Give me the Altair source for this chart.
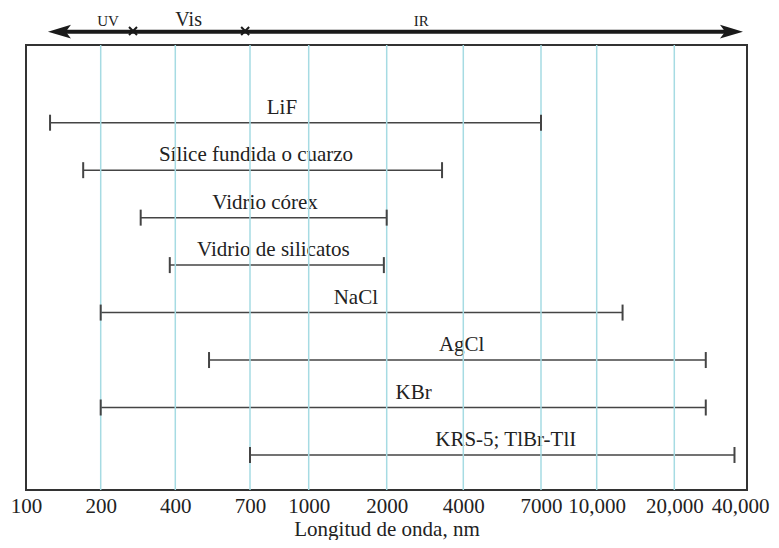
import altair as alt
import pandas as pd

# ---- data ----
materials = ["LiF", "Sílice fundida o cuarzo", "Vidrio córex", "Vidrio de silicatos",
             "NaCl", "AgCl", "KBr", "KRS-5; TlBr-TlI"]
rows = [1, 2, 3, 4, 5, 6, 7, 8]
low_nm = [125, 170, 290, 380, 200, 515, 200, 700]
high_nm = [7000, 3300, 2000, 1950, 12600, 27000, 27000, 35500]
label_nm = [850, 726, 767, 807, 1520, 3940, 2550, 5430]

tick_values = [100, 200, 400, 700, 1000, 2000, 4000, 7000, 10000, 20000, 40000]
grid_values = [200, 400, 700, 1000, 2000, 4000, 7000, 10000, 20000]
# uneven (hand-drawn) axis: pixel position of each tick inside the plot
tick_pixels = [0, 74.7, 149.3, 224, 282.7, 360.7, 437.3, 515, 570.7, 648.3, 721]

region_names = ["UV", "Vis", "IR"]
region_nm = [214, 442, 2736]
region_sizes = [15, 20, 15]
boundary_nm = [270, 675]
arrow_tips_nm = [122.6, 38500]
arrow_shaft_nm = [135, 35000]

W, H = 721, 445
FONT = "Liberation Serif"
INK = "#222222"
LINE = "#444444"
GRID = "#a6dbe3"

bars = pd.DataFrame({"material": materials, "row": rows, "lo": low_nm,
                     "hi": high_nm, "lab": label_nm})
grid = pd.DataFrame({"g": grid_values})
regions = pd.DataFrame({"name": region_names, "nm": region_nm, "fs": region_sizes})
bounds = pd.DataFrame({"nm": boundary_nm})
tips = pd.DataFrame({"nm": arrow_tips_nm, "side": ["left", "right"]})
shaft = pd.DataFrame({"a": [arrow_shaft_nm[0]], "b": [arrow_shaft_nm[1]]})

xscale = alt.Scale(type="log", domain=tick_values, range=tick_pixels, nice=False)
x_axis = alt.Axis(
    values=tick_values,
    labelExpr="datum.value >= 10000 ? format(datum.value, ',') : format(datum.value, 'd')",
    grid=False, ticks=False, tickSize=0, domain=False,
    labelFont=FONT, labelFontSize=21, labelColor=INK, labelPadding=5,
    labelOffset={"condition": {"test": "datum.value >= 40000", "value": -7}, "value": 0},
    labelOverlap=False, labelFlush=False, labelBound=False,
    title="Longitud de onda, nm", titleFont=FONT, titleFontSize=21,
    titleFontWeight="normal", titleColor=INK, titleBaseline="alphabetic", titleY=45.5,
)
yscale = alt.Scale(domain=[-0.637, 8.738], reverse=True, nice=False, zero=False)

base = alt.Chart(bars)

bar_lines = base.mark_rule(color=LINE, strokeWidth=1.5).encode(
    x=alt.X("lo:Q", scale=xscale, axis=x_axis),
    x2="hi:Q",
    y=alt.Y("row:Q", scale=yscale, axis=None),
)

labels = base.mark_text(font=FONT, fontSize=21, color=INK, baseline="alphabetic",
                        align="center", dy=-9).encode(
    x=alt.X("lab:Q", scale=xscale),
    y=alt.Y("row:Q", scale=yscale),
    text="material:N",
)

grid_lines = alt.Chart(grid).mark_rule(color=GRID, strokeWidth=1.5).encode(
    x=alt.X("g:Q", scale=xscale),
    y=alt.value(0), y2=alt.value(H),
)

end_ticks = base.transform_fold(["lo", "hi"], as_=["end", "nm"]).mark_tick(
    orient="vertical", size=16, thickness=2, color=LINE, opacity=1
).encode(
    x=alt.X("nm:Q", scale=xscale),
    y=alt.Y("row:Q", scale=yscale),
)

shaft_line = alt.Chart(shaft).mark_rule(color="#1a1a1a", strokeWidth=4).encode(
    x=alt.X("a:Q", scale=xscale), x2="b:Q", y=alt.value(-13.3),
)

left_head = alt.Chart(tips).transform_filter("datum.side == 'left'").mark_point(
    shape="M 0 0 L 2 -0.6 L 1.55 0 L 2 0.6 Z", size=529, filled=True,
    color="#1a1a1a", opacity=1, strokeWidth=0
).encode(x=alt.X("nm:Q", scale=xscale), y=alt.value(-13.3))

right_head = alt.Chart(tips).transform_filter("datum.side == 'right'").mark_point(
    shape="M 0 0 L -2 -0.6 L -1.55 0 L -2 0.6 Z", size=529, filled=True,
    color="#1a1a1a", opacity=1, strokeWidth=0
).encode(x=alt.X("nm:Q", scale=xscale), y=alt.value(-13.3))

markers = alt.Chart(bounds).mark_point(
    shape="M -1 -1 L 1 1 M -1 1 L 1 -1", size=64, filled=False,
    color="#1a1a1a", strokeWidth=2, opacity=1
).encode(x=alt.X("nm:Q", scale=xscale), y=alt.value(-14))

region_text = alt.Chart(regions).mark_text(
    font=FONT, color=INK, baseline="alphabetic", align="center"
).encode(
    x=alt.X("nm:Q", scale=xscale),
    y=alt.value(-19),
    text="name:N",
    size=alt.Size("fs:Q", scale=None, legend=None),
)

chart = alt.layer(
    bar_lines, labels, grid_lines, end_ticks,
    shaft_line, left_head, right_head, markers, region_text
).properties(
    width=W, height=H,
    autosize=alt.AutoSizeParams(type="none"),
    padding={"left": 18, "top": 37, "right": 24, "bottom": 50},
).configure_view(stroke="#333333", strokeWidth=2)

chart.save("out.html", embed_options={"renderer": "svg", "actions": False})
